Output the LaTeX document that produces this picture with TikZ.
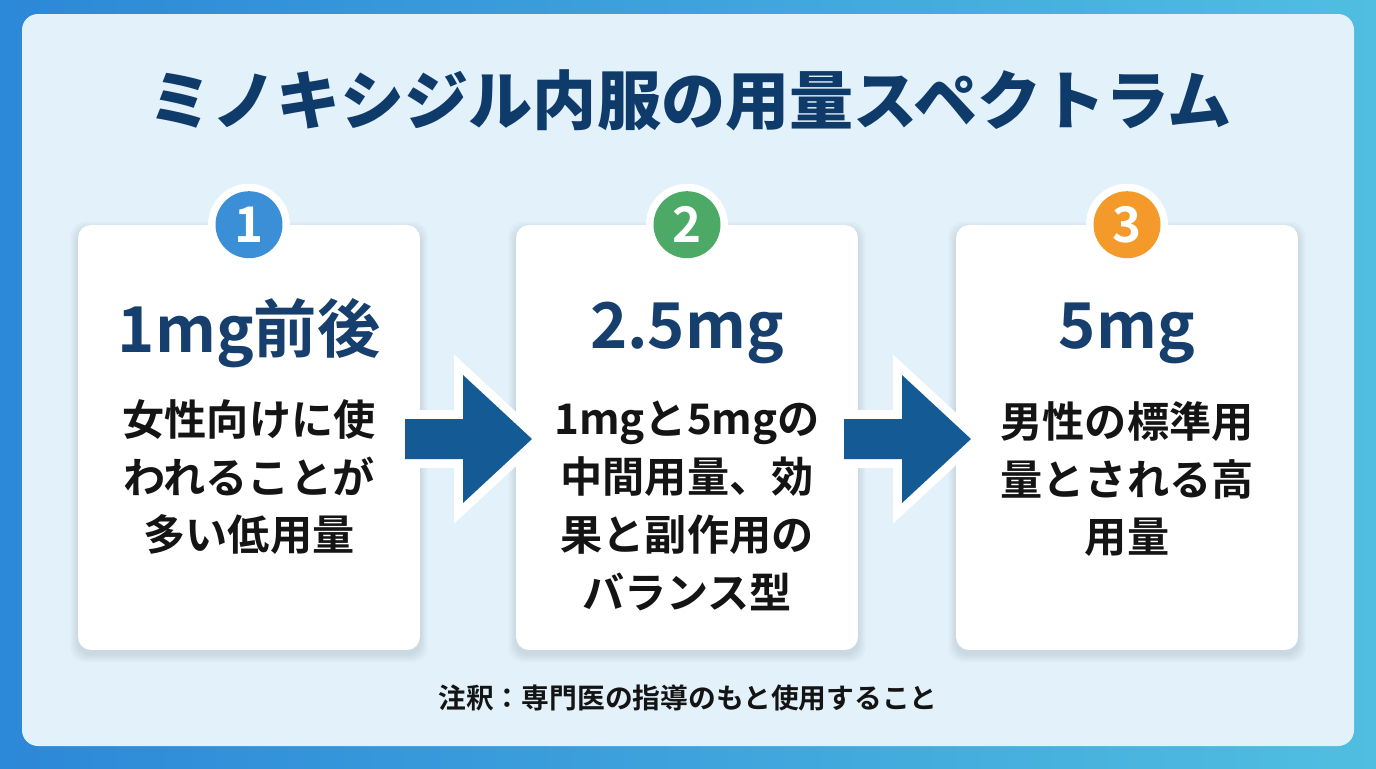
\documentclass[tikz,border=0pt]{standalone}
\usepackage{fontspec}
\setmainfont{Noto Sans CJK JP}[BoldFont={Noto Sans CJK JP Bold}]
\newfontfamily\titlefont{Noto Sans CJK JP Black}
\usetikzlibrary{calc}
\definecolor{bgL}{HTML}{2C88D8}
\definecolor{bgR}{HTML}{50BEE0}
\definecolor{panel}{HTML}{E3F1FB}
\definecolor{navy}{HTML}{0F3B6B}
\definecolor{headc}{HTML}{163F6E}
\definecolor{txt}{HTML}{141414}
\definecolor{arrowc}{HTML}{145A95}
\definecolor{bblue}{HTML}{3A8FD6}
\definecolor{bgreen}{HTML}{4DAA66}
\definecolor{borange}{HTML}{F39A2B}
\tikzset{
  card/.style={fill=white, rounded corners=0.26cm, minimum width=6.84cm, minimum height=8.5cm, inner sep=0pt},
  cardshadow/.style={fill=black, opacity=0.012, rounded corners=0.3cm, minimum width=6.84cm+#1*0.04cm, minimum height=8.5cm+#1*0.04cm, inner sep=0pt},
  ring/.style={circle, fill=white, minimum size=1.64cm, inner sep=0pt},
  badge/.style={circle, fill=#1, minimum size=1.34cm, inner sep=0pt, text=white, font=\bfseries\fontsize{28}{28}\selectfont},
  head/.style={text=headc, font=\bfseries\fontsize{36}{36}\selectfont, inner sep=0pt},
  body/.style={text=txt, align=center, font=\bfseries\fontsize{24}{32.9}\selectfont, inner sep=0pt},
  blockarrow/.style={fill=arrowc, draw=white, line width=0.36cm, line join=miter},
}
\begin{document}
\begin{tikzpicture}[x=0.02cm,y=-0.02cm]
\useasboundingbox (0,0) rectangle (1376,768);
\shade[left color=bgL, right color=bgR] (0,0) rectangle (1376,768);
\fill[panel, rounded corners=0.32cm] (22,14) rectangle (1354,746);

\node[text=navy, font=\titlefont\fontsize{36.5}{36.5}\selectfont, inner sep=0pt] (title) at (690,100) {ミノキシジル内服の用量スペクトラム};

% shadows
\foreach \cx in {249,687,1127}{
  \foreach \k in {1,...,8}{
    \node[cardshadow=\k] at (\cx,442) {};
  }
}
\node[card] (c1) at (249,437.5) {};
\node[card] (c2) at (687,437.5) {};
\node[card] (c3) at (1127,437.5) {};

% arrows
\coordinate (a1) at ($(c1.east)!0.5!(c2.west)+(0,1.5)$);
\coordinate (a2) at ($(c2.east)!0.5!(c3.west)+(0,1.5)$);
\foreach \a in {a1,a2}{
  \draw[blockarrow, shift={(\a)}] (-63,-20) -- (-5,-20) -- (-5,-64) -- (64,0) -- (-5,64) -- (-5,20) -- (-63,20) -- cycle;
  \fill[arrowc, shift={(\a)}] (-63,-20) -- (-5,-20) -- (-5,-64) -- (64,0) -- (-5,64) -- (-5,20) -- (-63,20) -- cycle;
}

% badges
\node[ring] (r1) at (c1.north) {};
\node[badge=bblue] (b1) at (r1) {1};
\node[ring] (r2) at (c2.north) {};
\node[badge=bgreen] (b2) at (r2) {2};
\node[ring] (r3) at (c3.north) {};
\node[badge=borange] (b3) at (r3) {3};

% headlines
\node[head] (h1) at (249,333) {1mg前後};
\node[head] (h2) at (687,333) {2.5mg};
\node[head] (h3) at (1127,333) {5mg};

% bodies
\node[body, anchor=north] (t1) at (249,399) {女性向けに使\\われることが\\多い低用量};
\node[body, anchor=north] (t2) at (687,401) {1mgと5mgの\\中間用量、効\\果と副作用の\\バランス型};
\node[body, anchor=north] (t3) at (1127,401) {男性の標準用\\量とされる高\\用量};

\node[text=txt, font=\bfseries\fontsize{15.8}{16}\selectfont, inner sep=0pt] (note) at (688,698) {注釈：専門医の指導のもと使用すること};
\end{tikzpicture}
\end{document}
